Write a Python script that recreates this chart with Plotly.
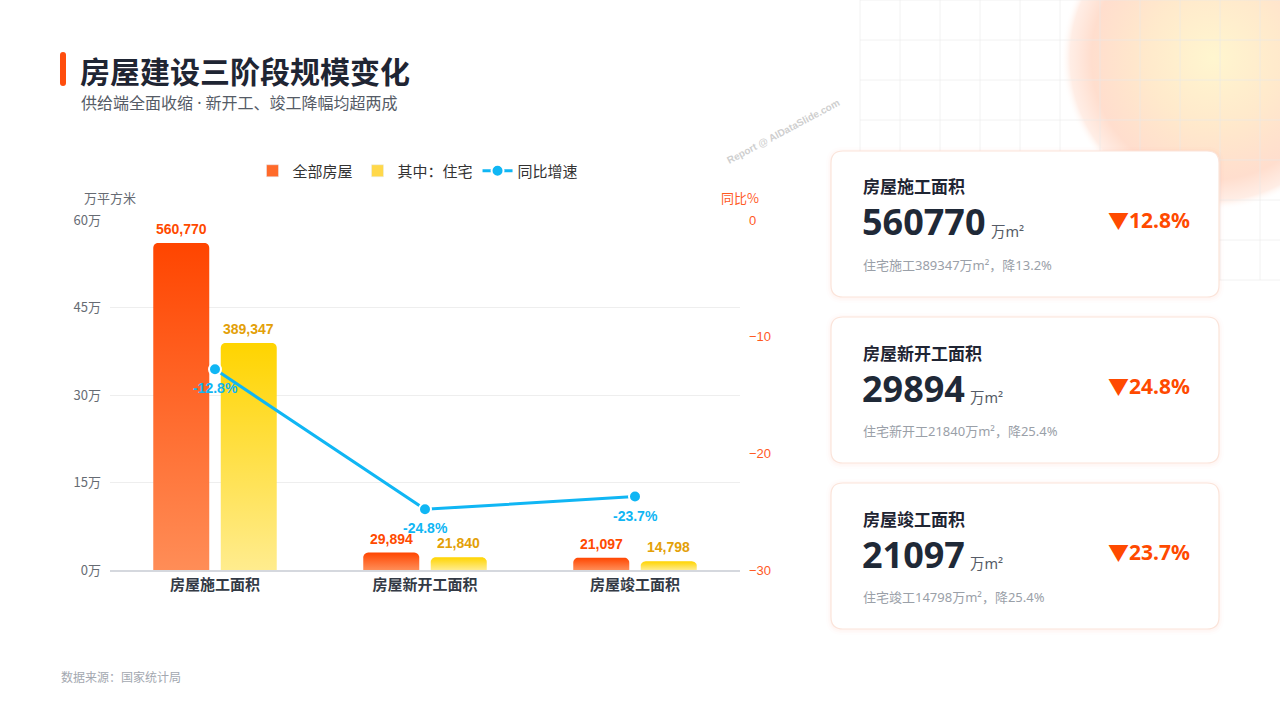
import base64
import math
import plotly.graph_objects as go

# ---------------- data ----------------
categories = ["房屋施工面积", "房屋新开工面积", "房屋竣工面积"]
total_area = [560770, 29894, 21097]
residential_area = [389347, 21840, 14798]
yoy_total = [-12.8, -24.8, -23.7]
yoy_residential = [-13.2, -25.4, -25.4]
residential_labels = ["住宅施工", "住宅新开工", "住宅竣工"]
y_tickvals = [0, 150000, 300000, 450000, 600000]
y_ticktext = ["0万", "15万", "30万", "45万", "60万"]
y2_tickvals = [0, -10, -20, -30]
series_names = ["全部房屋", "其中：住宅", "同比增速"]

# ---------------- layout geometry ----------------
W, H = 1280, 720
ML, MR, MT, MB = 110, 540, 220, 150
PW, PH = W - ML - MR, H - MT - MB
X_RANGE = [-0.5, 2.5]
Y_MAX = 600000
Y2_RANGE = [-30, 0]


def px(x):
    return (x - ML) / PW


def py(y):
    return (H - MB - y) / PH


UX = (X_RANGE[1] - X_RANGE[0]) / PW
UY = Y_MAX / PH

FONT_CJK = "Noto Sans CJK SC"
FONT_NUM = "Liberation Sans, Noto Sans CJK SC"
FONT_CARD = "Noto Sans, Noto Sans CJK SC"
BLUE = "#10b6f4"
ORANGE = "#ff4a00"
GOLD = "#e3a008"

BAR_HALF = 0.1333
BAR_OFFSET = 0.1607


def bar_poly(xc, h, r=5):
    x0, x1 = xc - BAR_HALF, xc + BAR_HALF
    rx, ry = r * UX, min(r * UY, h / 2)
    xs, ys = [x0], [0]
    for k in range(9):
        a = math.pi - (math.pi / 2) * k / 8
        xs.append(x0 + rx + rx * math.cos(a))
        ys.append(h - ry + ry * math.sin(a))
    for k in range(9):
        a = math.pi / 2 - (math.pi / 2) * k / 8
        xs.append(x1 - rx + rx * math.cos(a))
        ys.append(h - ry + ry * math.sin(a))
    xs += [x1, x0]
    ys += [0, 0]
    return xs, ys


fig = go.Figure()
annotations = []

series = [
    (total_area, -BAR_OFFSET, "#ff4500", "#ff8d57", ORANGE, "#ff6a2a", series_names[0]),
    (residential_area, BAR_OFFSET, "#ffd400", "#ffec8e", GOLD, "#ffd84a", series_names[1]),
]

for vals, off, ctop, cbot, lblc, legc, name in series:
    for i, v in enumerate(vals):
        xs, ys = bar_poly(i + off, v)
        fig.add_trace(go.Scatter(
            x=xs, y=ys, mode="none", fill="toself",
            fillgradient=dict(type="vertical", colorscale=[[0, cbot], [1, ctop]],
                              start=0, stop=v),
            hoverinfo="skip", showlegend=False))
        annotations.append(dict(
            x=i + off, y=v, xref="x", yref="y", text=f"{v:,}", showarrow=False,
            xanchor="center", yanchor="bottom", yshift=4,
            font=dict(family=FONT_NUM, size=14, color=lblc, weight="bold")))
    fig.add_trace(go.Bar(x=[None], y=[None], name=name, marker=dict(color=legc)))

fig.add_trace(go.Scatter(
    x=list(range(len(categories))), y=yoy_total, yaxis="y2",
    mode="lines+markers", name=series_names[2],
    line=dict(color=BLUE, width=3),
    marker=dict(size=12, color=BLUE, line=dict(color="white", width=2))))
for i, v in enumerate(yoy_total):
    annotations.append(dict(
        x=i, y=v, xref="x", yref="y2", text=f"{v}%", showarrow=False,
        xanchor="center", yanchor="top", yshift=-9,
        font=dict(family=FONT_NUM, size=14, color=BLUE, weight="bold")))

# ---------------- background svg (grid + glow) ----------------
grid = []
for k in range(0, 11):
    x = 860 + 40 * k
    grid.append(f'<line x1="{x}" y1="0" x2="{x}" y2="280" />')
for k in range(0, 8):
    y = 40 * k
    grid.append(f'<line x1="860" y1="{y}" x2="1280" y2="{y}" />')
svg = f'''<svg xmlns="http://www.w3.org/2000/svg" width="{W}" height="{H}" viewBox="0 0 {W} {H}">
<defs>
<radialGradient id="g" cx="1213" cy="58" r="152" gradientUnits="userSpaceOnUse">
<stop offset="0" stop-color="#fff6cf" stop-opacity="1"/>
<stop offset="0.45" stop-color="#ffe8c9" stop-opacity="0.95"/>
<stop offset="0.8" stop-color="#ffd8c5" stop-opacity="0.85"/>
<stop offset="0.94" stop-color="#ffdccc" stop-opacity="0.5"/>
<stop offset="1" stop-color="#ffffff" stop-opacity="0"/>
</radialGradient>
</defs>
<circle cx="1213" cy="58" r="152" fill="url(#g)"/>
<g stroke="#eaeaea" stroke-opacity="0.6" stroke-width="1">{''.join(grid)}</g>
</svg>'''
svg_uri = "data:image/svg+xml;base64," + base64.b64encode(svg.encode("utf-8")).decode("ascii")


def rrect(x0, y0, x1, y1, r):
    def p(a, b):
        return f"{px(a):.5f},{py(b):.5f}"
    return (f"M{p(x0 + r, y0)} L{p(x1 - r, y0)} Q{p(x1, y0)} {p(x1, y0 + r)} "
            f"L{p(x1, y1 - r)} Q{p(x1, y1)} {p(x1 - r, y1)} L{p(x0 + r, y1)} "
            f"Q{p(x0, y1)} {p(x0, y1 - r)} L{p(x0, y0 + r)} Q{p(x0, y0)} {p(x0 + r, y0)} Z")


shapes = [dict(type="path", path=rrect(60, 52, 66, 86, 3), xref="paper", yref="paper",
               fillcolor="#ff4d0d", line=dict(width=0), layer="below")]


def ann(text, x, y, size, color, xanchor="left", weight="normal", family=FONT_CJK, **kw):
    annotations.append(dict(text=text, x=px(x), y=py(y), xref="paper", yref="paper",
                            xanchor=xanchor, yanchor="middle", showarrow=False,
                            font=dict(family=family, size=size, color=color, weight=weight), **kw))


ann("房屋建设三阶段规模变化", 78, 70, 30, "#1f2533", weight="bold")
ann("供给端全面收缩 · 新开工、竣工降幅均超两成", 79, 103, 16, "#555b66", family=FONT_CARD)
ann("万平方米", 82, 198, 13, "#666b73")
ann("同比%", 761, 198, 13, "#ff5a1f", xanchor="right")
ann("数据来源：国家统计局", 59, 676, 12, "#a3a8b0")
ann("Report @ AIDataSlide.com", 783, 131, 10, "rgba(190,190,190,0.75)",
    xanchor="center", weight="bold", family="Liberation Sans", textangle=-28)

for i in range(len(categories)):
    T = 151 + i * 166
    for d, op in [(5, 0.012), (3, 0.018), (1.5, 0.025)]:
        shapes.append(dict(type="path", path=rrect(831 - d, T - d + 1, 1219 + d, T + 146 + d + 1, 12 + d),
                           xref="paper", yref="paper", fillcolor=f"rgba(240,120,70,{op})",
                           line=dict(width=0), layer="below"))
    shapes.append(dict(type="path", path=rrect(831, T, 1219, T + 146, 12), xref="paper", yref="paper",
                       fillcolor="white", line=dict(color="#fbe4da", width=1.2), layer="below"))
    num = str(total_area[i])
    ann(categories[i], 861, T + 35, 17, "#1f2533", weight="bold")
    ann(num, 860, T + 71, 36, "#1f2937", weight="bold", family=FONT_CARD)
    ann("万m²", 862 + len(num) * 20.8 + 2, T + 80, 14.5, "#555b66", family=FONT_CARD)
    ann(f"▼{abs(yoy_total[i])}%", 1192, T + 69, 21, ORANGE, xanchor="right", weight="bold", family=FONT_CARD)
    ann(f"{residential_labels[i]}{residential_area[i]}万m²，降{abs(yoy_residential[i])}%",
        861, T + 114, 13, "#9aa0a8", family=FONT_CARD)

fig.update_layout(
    width=W, height=H, autosize=False,
    margin=dict(l=ML, r=MR, t=MT, b=MB),
    paper_bgcolor="white", plot_bgcolor="rgba(0,0,0,0)",
    font=dict(family=FONT_CJK),
    showlegend=True,
    legend=dict(orientation="h", x=px(418), y=py(171), xanchor="center", yanchor="middle",
                font=dict(size=15, color="#333"), bgcolor="rgba(0,0,0,0)", traceorder="normal",
                itemwidth=30),
    xaxis=dict(range=X_RANGE, tickvals=list(range(len(categories))), ticktext=categories,
               showgrid=False, zeroline=False, showline=True, linecolor="#d5d8de", linewidth=1.5,
               tickfont=dict(size=15, color="#333a45", weight="bold"), fixedrange=True),
    yaxis=dict(range=[0, Y_MAX], tickvals=y_tickvals, ticktext=y_ticktext, showgrid=True,
               gridcolor="#eeeeee", zeroline=False, showline=False, ticklabelstandoff=8,
               tickfont=dict(size=13, color="#666b73", family=FONT_CJK), fixedrange=True),
    yaxis2=dict(range=Y2_RANGE, tickvals=y2_tickvals, overlaying="y", side="right",
                showgrid=False, zeroline=False, showline=False, ticklabelstandoff=8,
                tickfont=dict(size=13, color="#ff5a1f", family=FONT_NUM), fixedrange=True),
    images=[dict(source=svg_uri, xref="paper", yref="paper", x=px(0), y=py(0),
                 sizex=W / PW, sizey=H / PH, xanchor="left", yanchor="top",
                 sizing="stretch", layer="below")],
    shapes=shapes,
    annotations=annotations,
)

fig.write_html("out.html", config={"displayModeBar": False},
               post_script="document.body.style.margin='0';")
